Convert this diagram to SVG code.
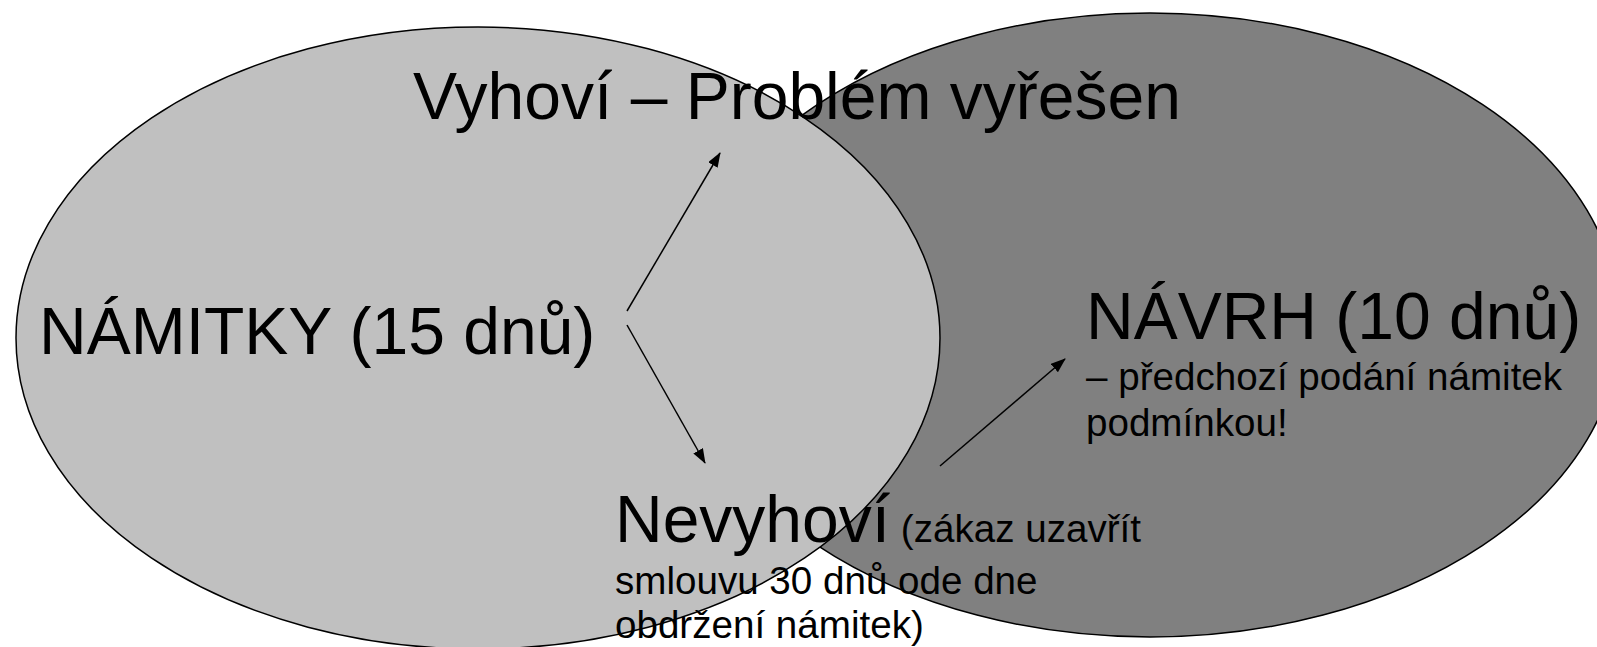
<svg xmlns="http://www.w3.org/2000/svg" width="1597" height="647" viewBox="0 0 1597 647">
  <defs>
    <style>
      .ell { stroke: #000000; stroke-width: 1.5; }
      .big { font-family: "Liberation Sans", Arial, sans-serif; font-size: 66px; fill: #000000; }
      .small { font-family: "Liberation Sans", Arial, sans-serif; font-size: 38.6px; fill: #000000; }
      .conn { stroke: #000000; stroke-width: 1.5; fill: none; marker-end: url(#arrow); }
    </style>
    <marker id="arrow" markerWidth="15" markerHeight="11" refX="14" refY="5.5" orient="auto" markerUnits="userSpaceOnUse">
      <path d="M0,0 L15,5.5 L0,11 Z" fill="#000000"/>
    </marker>
  </defs>
  <rect x="0" y="0" width="1597" height="647" fill="#ffffff"/>

  <g id="navrh-ellipse">
    <ellipse class="ell" cx="1150" cy="325" rx="470" ry="312" fill="#808080"/>
  </g>
  <g id="namitky-ellipse">
    <ellipse class="ell" cx="478" cy="338" rx="462" ry="311" fill="#C0C0C0"/>
  </g>

  <g id="connectors">
    <line class="conn" x1="627" y1="311" x2="720" y2="153"/>
    <line class="conn" x1="627" y1="325" x2="705" y2="463"/>
    <line class="conn" x1="940" y1="466" x2="1065" y2="359"/>
  </g>

  <g id="vyhovi">
    <text class="big" x="413" y="119">Vyhoví – Problém vyřešen</text>
  </g>
  <g id="namitky">
    <text class="big" x="39" y="354">NÁMITKY (15 dnů)</text>
  </g>
  <g id="navrh">
    <text class="big" x="1086" y="339">NÁVRH (10 dnů)</text>
    <text class="small" x="1086" y="390">– předchozí podání námitek</text>
    <text class="small" x="1086" y="436">podmínkou!</text>
  </g>
  <g id="nevyhovi">
    <text x="615" y="542"><tspan class="big">Nevyhoví</tspan><tspan class="small"> (zákaz uzavřít</tspan></text>
    <text class="small" x="615" y="594">smlouvu 30 dnů ode dne</text>
    <text class="small" x="615" y="638">obdržení námitek)</text>
  </g>
</svg>
